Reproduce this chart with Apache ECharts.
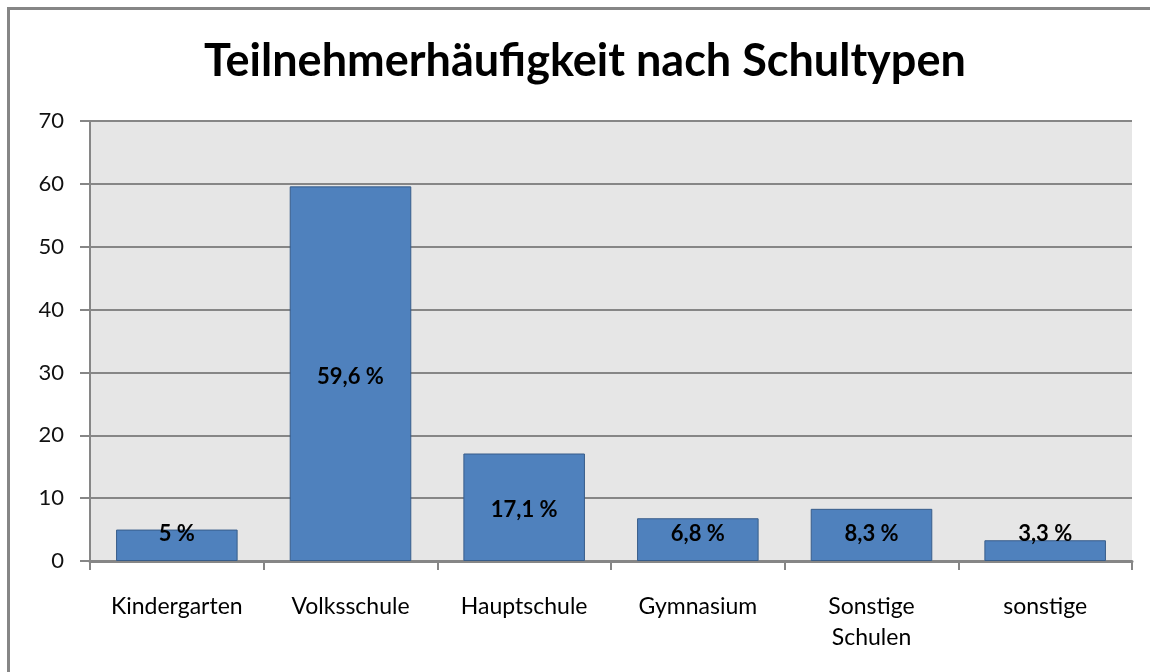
<!DOCTYPE html>
<html>
<head>
<meta charset="utf-8">
<script src="https://cdn.jsdelivr.net/npm/echarts@6/dist/echarts.min.js"></script>
<style>
  html, body { margin: 0; padding: 0; background: #fff; }
  #chart { width: 1150px; height: 672px; }
</style>
</head>
<body>
<div id="chart"></div>
<script>
// Daten
var categories = ['Kindergarten', 'Volksschule', 'Hauptschule', 'Gymnasium', 'Sonstige\nSchulen', 'sonstige']
var values = [5, 59.6, 17.1, 6.8, 8.3, 3.3]
var yTicks = [0, 10, 20, 30, 40, 50, 60, 70]

var font = 'Lato, "Open Sans", sans-serif'
var chart = echarts.init(document.getElementById('chart'))

function fmt (v) {
  return String(v).replace('.', ',') + ' %'
}

var option = {
  animation: false,
  backgroundColor: '#fff',
  title: {
    text: 'Teilnehmerhäufigkeit nach Schultypen',
    left: 204,
    top: 39,
    padding: 0,
    textStyle: { fontFamily: font, fontSize: 45, fontWeight: 'bold', color: '#000' }
  },
  graphic: [
    {
      type: 'rect',
      shape: { x: 8.5, y: 8.5, width: 1160, height: 700 },
      style: { fill: null, stroke: '#868686', lineWidth: 3 },
      z: 100
    }
  ],
  grid: {
    left: 90,
    right: 18,
    top: 121,
    bottom: 111,
    show: true,
    backgroundColor: '#e6e6e6',
    borderWidth: 0
  },
  xAxis: {
    type: 'category',
    data: categories,
    axisLine: { show: true, lineStyle: { color: '#868686', width: 3 } },
    axisTick: { show: true, alignWithLabel: false, length: 9, lineStyle: { color: '#868686', width: 2 } },
    axisLabel: { fontFamily: font, fontSize: 23, color: '#000', margin: 30, lineHeight: 31 },
    splitLine: { show: false }
  },
  yAxis: {
    type: 'value',
    min: yTicks[0],
    max: yTicks[yTicks.length - 1],
    interval: 10,
    axisLine: { show: true, lineStyle: { color: '#868686', width: 2 } },
    axisTick: { show: true, length: 10, lineStyle: { color: '#868686', width: 2 } },
    axisLabel: { fontFamily: font, fontSize: 22, color: '#111', margin: 26 },
    splitLine: { show: true, lineStyle: { color: '#868686', width: 2 } }
  },
  series: [
    {
      type: 'bar',
      data: values,
      barCategoryGap: '30%',
      itemStyle: { color: '#4f81bd', borderColor: '#385d8a', borderWidth: 1 },
      label: {
        show: true,
        position: 'inside',
        fontFamily: font,
        fontSize: 22,
        fontWeight: 'bold',
        color: '#000',
        formatter: function (p) { return fmt(p.value) }
      }
    }
  ]
}
chart.setOption(option)

// Excel hält kleine Beschriftungen über der Achse: Mittelpunkt höchstens 27px über der Basis
var base = chart.convertToPixel({ seriesIndex: 0 }, [0, 0])[1]
var data = values.map(function (v, i) {
  var top = chart.convertToPixel({ seriesIndex: 0 }, [i, v])[1]
  var mid = (top + base) / 2
  var limit = base - 27
  var dy = mid > limit ? limit - mid : 3
  return { value: v, label: { offset: [0, dy] } }
})
chart.setOption({ series: [{ data: data }] })
</script>
</body>
</html>
